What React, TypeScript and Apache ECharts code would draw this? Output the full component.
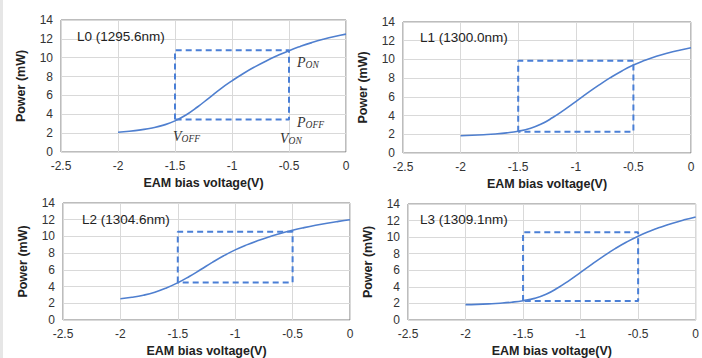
import React, { useEffect, useRef } from "react";
import * as echarts from "echarts";

const voltages = [-2.0, -1.9, -1.8, -1.7, -1.6, -1.5, -1.4, -1.3, -1.2, -1.1, -1.0, -0.9, -0.8, -0.7, -0.6, -0.5, -0.4, -0.3, -0.2, -0.1, 0];
const powerL0 = [2.1, 2.2, 2.35, 2.55, 2.85, 3.3, 3.95, 4.8, 5.75, 6.7, 7.55, 8.33, 9.03, 9.66, 10.23, 10.75, 11.2, 11.6, 11.95, 12.25, 12.5];
const powerL1 = [1.85, 1.89, 1.95, 2.03, 2.15, 2.33, 2.61, 3.09, 3.79, 4.61, 5.49, 6.39, 7.25, 8.05, 8.77, 9.4, 9.9, 10.33, 10.69, 10.99, 11.25];
const powerL2 = [2.55, 2.72, 2.97, 3.33, 3.83, 4.46, 5.21, 6.04, 6.89, 7.69, 8.39, 8.99, 9.51, 9.97, 10.39, 10.74, 11.05, 11.33, 11.58, 11.8, 12.0];
const powerL3 = [1.85, 1.89, 1.95, 2.03, 2.15, 2.33, 2.61, 3.11, 3.86, 4.76, 5.74, 6.74, 7.71, 8.61, 9.41, 10.11, 10.71, 11.23, 11.69, 12.09, 12.44];

const panelLabels = ["L0 (1295.6nm)", "L1 (1300.0nm)", "L2 (1304.6nm)", "L3 (1309.1nm)"];
const boxVoltages = [-1.5, -0.5]; // V_OFF, V_ON
const boxPowerL0 = [3.45, 10.8];
const boxPowerL1 = [2.28, 9.86];
const boxPowerL2 = [4.5, 10.56];
const boxPowerL3 = [2.3, 10.6];

const xTitle = "EAM bias voltage(V)";
const yTitle = "Power (mW)";

const grids = [
  { left: 61, top: 20, width: 285, height: 132 },
  { left: 403, top: 22, width: 288, height: 131 },
  { left: 63, top: 203, width: 287, height: 117 },
  { left: 408, top: 204, width: 289, height: 118 },
];

const labelPos = [
  { left: 77, top: 29 },
  { left: 420, top: 30 },
  { left: 82, top: 212 },
  { left: 420, top: 212 },
];

const FONT = "Arial, 'Liberation Sans', sans-serif";
const CURVE = "#4f7fcf";
const DASH = "#4a7fd6";

export default function App() {
  const ref = useRef<HTMLDivElement>(null);
  useEffect(() => {
    if (!ref.current) return;
    const chart = echarts.init(ref.current, null, { renderer: "svg" });
    const powers = [powerL0, powerL1, powerL2, powerL3];
    const boxes = [boxPowerL0, boxPowerL1, boxPowerL2, boxPowerL3];

    const xAxes = grids.map((_, i) => ({
      type: "value",
      gridIndex: i,
      min: -2.5,
      max: 0,
      interval: 0.5,
      axisLine: { show: false },
      axisTick: { show: false },
      splitLine: { show: true, lineStyle: { color: "#d9d9d9", width: 1 } },
      axisLabel: { fontSize: 12, color: "#333", fontFamily: FONT, margin: 8 },
      name: xTitle,
      nameLocation: "middle",
      nameGap: 24,
      nameTextStyle: { fontSize: 12.5, fontWeight: "bold", color: "#222", fontFamily: FONT },
    }));
    const yAxes = grids.map((_, i) => ({
      type: "value",
      gridIndex: i,
      min: 0,
      max: 14,
      interval: 2,
      axisLine: { show: false },
      axisTick: { show: false },
      splitLine: { show: true, lineStyle: { color: "#d9d9d9", width: 1 } },
      axisLabel: { fontSize: 12, color: "#333", fontFamily: FONT, margin: 8 },
      name: yTitle,
      nameLocation: "middle",
      nameGap: 34,
      nameTextStyle: { fontSize: 12.5, fontWeight: "bold", color: "#222", fontFamily: FONT },
    }));

    const series: any[] = [];
    powers.forEach((p, i) => {
      series.push({
        type: "line",
        xAxisIndex: i,
        yAxisIndex: i,
        data: voltages.map((v, k) => [v, p[k]]),
        smooth: true,
        showSymbol: false,
        lineStyle: { color: CURVE, width: 1.6 },
        z: 3,
      });
      const b = boxes[i];
      series.push({
        type: "line",
        xAxisIndex: i,
        yAxisIndex: i,
        data: [
          [boxVoltages[0], b[0]],
          [boxVoltages[0], b[1]],
          [boxVoltages[1], b[1]],
          [boxVoltages[1], b[0]],
          [boxVoltages[0], b[0]],
        ],
        showSymbol: false,
        lineStyle: { color: DASH, width: 2, type: [6, 4] },
        z: 2,
      });
    });

    const mathRich = {
      m: { fontFamily: "'Liberation Serif', serif", fontStyle: "italic", fontSize: 14, fill: "#333" },
      s: { fontFamily: "'Liberation Serif', serif", fontStyle: "italic", fontSize: 9.5, fill: "#333", padding: [6, 0, 0, 0] },
    };
    const ann = (x: number, y: number, main: string, sub: string) => ({
      type: "text",
      x,
      y,
      style: {
        text: `{m|${main}}{s|${sub}}`,
        rich: mathRich,
        fill: "#333",
        verticalAlign: "middle",
      },
      z: 10,
    });

    chart.setOption({
      animation: false,
      backgroundColor: "#fff",
      grid: grids.map((g) => ({ ...g, show: true, borderColor: "#7a7a7a", borderWidth: 1, backgroundColor: "transparent" })),
      title: panelLabels.map((t, i) => ({
        text: t,
        left: labelPos[i].left,
        top: labelPos[i].top,
        textStyle: { fontSize: 13.5, fontWeight: "normal", color: "#222", fontFamily: FONT },
        padding: 0,
      })),
      xAxis: xAxes,
      yAxis: yAxes,
      series,
      graphic: [
        { type: "rect", shape: { x: 0, y: 0, width: 3, height: 358 }, style: { fill: "#e6e6e6" }, silent: true },
        ann(297, 62, "P", "ON"),
        ann(297, 122, "P", "OFF"),
        ann(173, 136, "V", "OFF"),
        ann(280, 138, "V", "ON"),
      ],
    });
    return () => chart.dispose();
  }, []);
  return (
    <div
      ref={ref}
      style={{ position: "fixed", left: 0, top: 0, width: 702, height: 358 }}
    />
  );
}
